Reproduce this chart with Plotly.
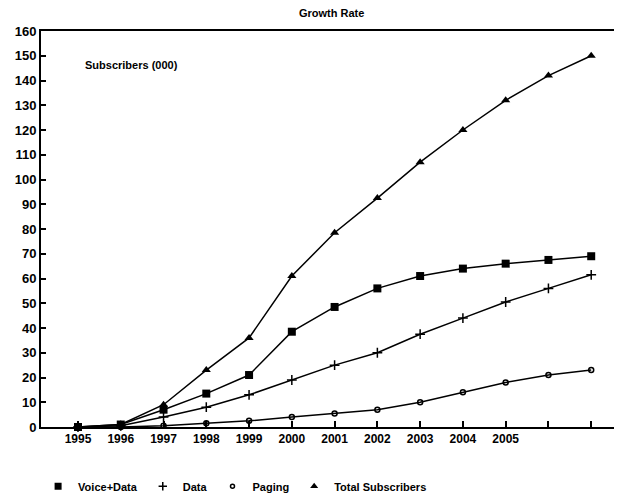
import plotly.graph_objects as go

years = ["1995", "1996", "1997", "1998", "1999", "2000", "2001", "2002", "2003", "2004", "2005", "", ""]
voice_data = [0, 1, 7, 13.5, 21, 38.5, 48.5, 56, 61, 64, 66, 67.5, 69]
data = [0, 0.5, 4, 8, 13, 19, 25, 30, 37.5, 44, 50.5, 56, 61.5]
paging = [0, 0, 0.5, 1.5, 2.5, 4, 5.5, 7, 10, 14, 18, 21, 23]
total = [0, 1, 9, 23, 36, 61, 78.5, 92.5, 107, 120, 132, 142, 150]
y_ticks = list(range(0, 161, 10))

x = list(range(len(years)))
FONT = "Liberation Sans, Arial, sans-serif"

series = [
    ("Voice+Data", voice_data, "square", 8, None),
    ("Data", data, "cross-thin", 7, 1.5),
    ("Paging", paging, "circle-open", 5, 1.5),
    ("Total Subscribers", total, "triangle-up", 8, None),
]

fig = go.Figure()
for name, vals, sym, size, lw in series:
    marker = dict(symbol=sym, size=size, color="black")
    if lw:
        marker["line"] = dict(width=lw, color="black")
    fig.add_trace(go.Scatter(x=x, y=vals, mode="lines+markers", name=name,
                             line=dict(color="black", width=1.5), marker=marker,
                             cliponaxis=False, showlegend=False))
    lm = dict(symbol=sym, size=size - 1, color="black")
    if lw:
        lm["line"] = dict(width=lw, color="black")
    fig.add_trace(go.Scatter(x=[None], y=[None], mode="markers", name=name,
                             marker=lm, showlegend=True))

fig.update_layout(
    width=622, height=501,
    paper_bgcolor="white", plot_bgcolor="white",
    margin=dict(l=33, r=8, t=23, b=65),
    font=dict(family=FONT, color="black", size=12, weight="bold"),
    xaxis=dict(range=[-0.865, 12.72], tickmode="array", tickvals=x, ticktext=years,
               ticks="inside", ticklen=6, tickwidth=1.5, tickcolor="black",
               showline=True, linewidth=2, linecolor="black", mirror=True,
               showgrid=False, zeroline=False, automargin=False,
               tickfont=dict(size=12, family=FONT, weight="bold")),
    yaxis=dict(range=[0, 160], tickmode="array", tickvals=y_ticks,
               ticks="inside", ticklen=5, tickwidth=1.5, tickcolor="black",
               showline=True, linewidth=2, linecolor="black",
               showgrid=False, zeroline=False, automargin=False,
               tickfont=dict(size=13, family=FONT, weight="bold")),
    legend=dict(orientation="h", x=-0.005, xanchor="left", y=-0.113, yanchor="top",
                font=dict(size=11, family=FONT, weight="bold"),
                itemwidth=30, tracegroupgap=0, bgcolor="rgba(0,0,0,0)"),
    annotations=[
        dict(text="Growth Rate", x=0.50, y=1.045, xref="paper", yref="paper",
             xanchor="center", yanchor="middle", showarrow=False,
             font=dict(size=11, family=FONT, weight="bold")),
        dict(text="Subscribers (000)", x=0.072, y=0.913, xref="paper", yref="paper",
             xanchor="left", yanchor="middle", showarrow=False,
             font=dict(size=11, family=FONT, weight="bold")),
    ],
)

fig.write_html("out.html")
